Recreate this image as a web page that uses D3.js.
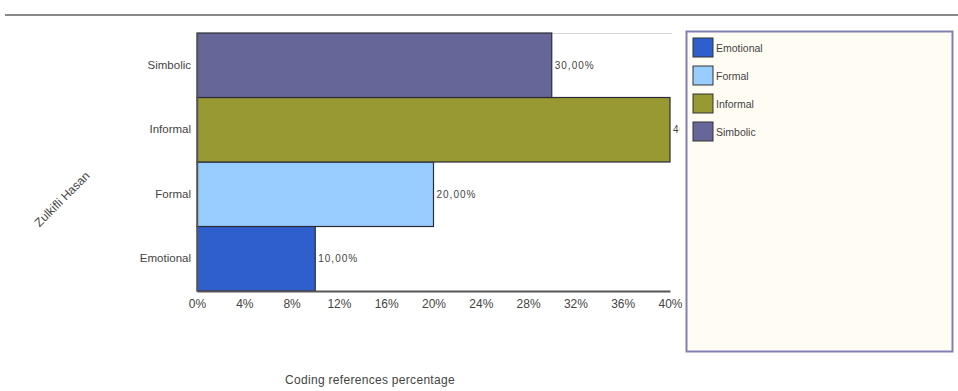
<!DOCTYPE html>
<html>
<head>
<meta charset="utf-8">
<script src="https://cdn.jsdelivr.net/npm/d3@7"></script>
<style>
  body { margin: 0; background: #fff; }
  svg { display: block; font-family: Arial, "Liberation Sans", sans-serif; }
</style>
</head>
<body>
<script>
'use strict';

const categories = ["Emotional", "Formal", "Informal", "Simbolic"];
const values = [10, 20, 40, 30];
const colors = ["#2f5fcc", "#99ccff", "#999933", "#666699"];
const xTicks = [0, 4, 8, 12, 16, 20, 24, 28, 32, 36, 40];
const seriesLabel = "Zulkifli Hasan";
const xTitle = "Coding references percentage";

const W = 958, H = 391;
let svg = d3.select("body").append("svg")
    .attr("width", W)
    .attr("height", H);

// top rule
svg.append("line")
    .attr("x1", 5).attr("x2", W)
    .attr("y1", 15).attr("y2", 15)
    .attr("stroke", "#8a8a8a")
    .attr("stroke-width", 2);

let x = d3.scaleLinear().domain([0, 40]).range([197, 670]);
let y = d3.scaleBand().domain(categories.slice().reverse()).range([33, 291]).padding(0);

// top grid line
svg.append("line")
    .attr("x1", x(0)).attr("x2", x(40) + 2)
    .attr("y1", 33.5).attr("y2", 33.5)
    .attr("stroke", "#d8d8d8");

svg.append("clipPath").attr("id", "clip")
    .append("rect").attr("x", 0).attr("y", 0).attr("width", 680).attr("height", H);

let bars = svg.append("g");
bars.selectAll("rect")
    .data(categories)
    .join("rect")
    .attr("x", x(0))
    .attr("y", d => y(d))
    .attr("width", (d, i) => x(values[i]) - x(0))
    .attr("height", y.bandwidth())
    .attr("fill", (d, i) => colors[i])
    .attr("stroke", "#2b2b3a")
    .attr("stroke-width", 1.2);

svg.append("g").attr("clip-path", "url(#clip)")
    .selectAll("text")
    .data(categories)
    .join("text")
    .attr("x", (d, i) => x(values[i]) + 3)
    .attr("y", d => y(d) + y.bandwidth() / 2)
    .attr("dy", "0.35em")
    .attr("font-size", 10)
    .attr("letter-spacing", 1)
    .attr("fill", "#444")
    .text((d, i) => values[i].toFixed(2).replace(".", ",") + "%");

// x axis
let xAxis = svg.append("g")
    .attr("transform", "translate(0,291)")
    .call(d3.axisBottom(x).tickValues(xTicks).tickSize(0).tickPadding(8).tickFormat(d => d + "%"));
xAxis.select(".domain").attr("stroke", "#555").attr("stroke-width", 2);
xAxis.selectAll("text").attr("font-size", 12).attr("fill", "#444").attr("font-family", "Arial, 'Liberation Sans', sans-serif");

// y axis labels
let yAxis = svg.append("g")
    .attr("transform", "translate(197,0)")
    .call(d3.axisLeft(y).tickSize(0).tickPadding(6));
yAxis.select(".domain").attr("stroke", "#555").attr("stroke-width", 1.5);
yAxis.selectAll("text").attr("font-size", 11.5).attr("fill", "#444").attr("font-family", "Arial, 'Liberation Sans', sans-serif");

// rotated series label
svg.append("text")
    .attr("transform", "translate(62,199) rotate(-45)")
    .attr("text-anchor", "middle")
    .attr("dy", "0.35em")
    .attr("font-size", 12)
    .attr("fill", "#444")
    .text(seriesLabel);

svg.append("text")
    .attr("x", 370).attr("y", 380)
    .attr("text-anchor", "middle")
    .attr("dy", "0.35em")
    .attr("font-size", 12)
    .attr("letter-spacing", 0.3)
    .attr("fill", "#444")
    .text(xTitle);

// legend
let legend = svg.append("g");
legend.append("rect")
    .attr("x", 686.5).attr("y", 31.5)
    .attr("width", 266).attr("height", 320)
    .attr("fill", "#fffcf4")
    .attr("stroke", "#8080b4")
    .attr("stroke-width", 2);

let items = legend.selectAll("g.item")
    .data(categories)
    .join("g")
    .attr("class", "item")
    .attr("transform", (d, i) => `translate(693,${38 + i * 28})`);
items.append("rect")
    .attr("width", 20).attr("height", 19)
    .attr("fill", (d, i) => colors[i])
    .attr("stroke", "#333")
    .attr("stroke-width", 1);
items.append("text")
    .attr("x", 23).attr("y", 10)
    .attr("dy", "0.35em")
    .attr("font-size", 10.5)
    .attr("fill", "#444")
    .text(d => d);
</script>
</body>
</html>
